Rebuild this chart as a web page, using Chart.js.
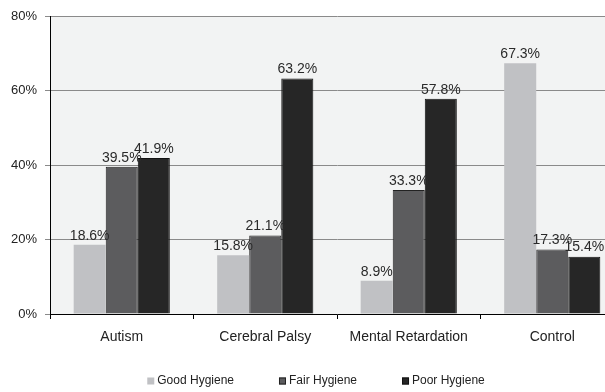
<!DOCTYPE html>
<html>
<head>
<meta charset="utf-8">
<script src="https://cdn.jsdelivr.net/npm/chart.js@4/dist/chart.umd.min.js"></script>
<style>
html,body{margin:0;padding:0;background:#fff;overflow:hidden;width:605px;height:392px;}
canvas{display:block;}
</style>
</head>
<body>
<canvas id="c" width="625" height="392"></canvas>
<script>
const categories = ["Autism", "Cerebral Palsy", "Mental Retardation", "Control"];
const goodHygiene = [18.6, 15.8, 8.9, 67.3];
const fairHygiene = [39.5, 21.1, 33.3, 17.3];
const poorHygiene = [41.9, 63.2, 57.8, 15.4];
const seriesNames = ["Good Hygiene", "Fair Hygiene", "Poor Hygiene"];
const yTicks = [0, 20, 40, 60, 80];

const FONT = "'Liberation Sans', Arial, sans-serif";

const plotBg = {
  id: 'plotBg',
  beforeDraw(chart) {
    const {ctx, chartArea: a} = chart;
    ctx.save();
    ctx.fillStyle = '#f2f3f3';
    ctx.fillRect(a.left, a.top, a.right - a.left, a.bottom - a.top);
    ctx.restore();
  }
};

const valueLabels = {
  id: 'valueLabels',
  afterDatasetsDraw(chart) {
    const {ctx} = chart;
    ctx.save();
    ctx.font = '14px ' + FONT;
    ctx.fillStyle = '#2a2a2a';
    ctx.textAlign = 'center';
    ctx.textBaseline = 'bottom';
    chart.data.datasets.forEach((ds, i) => {
      const meta = chart.getDatasetMeta(i);
      meta.data.forEach((bar, j) => {
        ctx.fillText(ds.data[j].toFixed(1) + '%', bar.x, bar.y - 2);
      });
    });
    ctx.restore();
  }
};

const customLegend = {
  id: 'customLegend',
  afterDraw(chart) {
    const {ctx} = chart;
    ctx.save();
    ctx.font = '12px ' + FONT;
    ctx.textBaseline = 'middle';
    ctx.textAlign = 'left';
    const box = 7, gapText = 3, gapItem = 45;
    const items = chart.data.datasets.map(ds => ({
      label: ds.label, color: ds.backgroundColor, border: ds.borderColor,
      w: box + gapText + ctx.measureText(ds.label).width
    }));
    const total = items.reduce((s, it) => s + it.w, 0) + gapItem * (items.length - 1);
    let x = 316 - total / 2;
    const y = 381;
    items.forEach(it => {
      ctx.fillStyle = it.color;
      ctx.fillRect(x, y - box / 2, box, box);
      if (it.border) {
        ctx.strokeStyle = it.border;
        ctx.lineWidth = 1;
        ctx.strokeRect(x + 0.5, y - box / 2 + 0.5, box - 1, box - 1);
      }
      ctx.fillStyle = '#222';
      ctx.fillText(it.label, x + box + gapText, y);
      x += it.w + gapItem;
    });
    ctx.restore();
  }
};

new Chart(document.getElementById('c'), {
  type: 'bar',
  data: {
    labels: categories,
    datasets: [
      {label: seriesNames[0], data: goodHygiene, backgroundColor: '#c0c1c4', borderWidth: 0},
      {label: seriesNames[1], data: fairHygiene, backgroundColor: '#5c5c5e', borderColor: '#222', borderWidth: 1},
      {label: seriesNames[2], data: poorHygiene, backgroundColor: '#262626', borderColor: '#111', borderWidth: 1}
    ]
  },
  options: {
    responsive: false,
    animation: false,
    devicePixelRatio: 1,
    layout: {padding: {top: 16, left: 0, right: 1, bottom: 45}},
    datasets: {bar: {categoryPercentage: 0.67, barPercentage: 1.0}},
    plugins: {
      legend: {display: false},
      tooltip: {enabled: false}
    },
    scales: {
      x: {
        grid: {offset: true, drawOnChartArea: false, tickLength: 5, color: '#000'},
        border: {color: '#000', width: 1},
        ticks: {color: '#222', font: {family: FONT, size: 14}, padding: 10},
        afterFit(s) { s.height = 33; }
      },
      y: {
        min: 0, max: 80,
        afterBuildTicks(s) { s.ticks = yTicks.map(v => ({value: v})); },
        grid: {color: '#8a8a8a', tickLength: 5, lineWidth: 1},
        border: {color: '#000', width: 1},
        ticks: {color: '#222', font: {family: FONT, size: 13}, padding: 8,
          callback: v => v + '%'},
        afterFit(s) { s.width = 50; }
      }
    }
  },
  plugins: [plotBg, valueLabels, customLegend]
});
</script>
</body>
</html>
